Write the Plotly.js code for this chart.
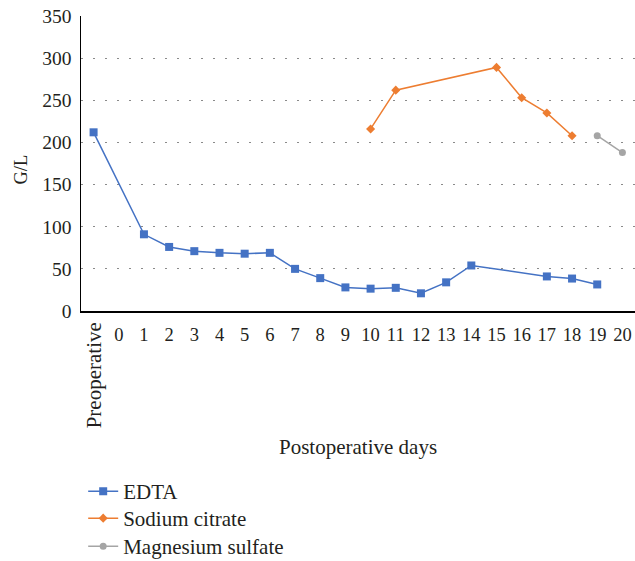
<!DOCTYPE html>
<html>
<head>
<meta charset="utf-8">
<script src="https://cdn.plot.ly/plotly-3.0.1.min.js"></script>
<style>html,body{margin:0;padding:0;background:#fff;}#chart{width:635px;height:561px;}</style>
</head>
<body>
<div id="chart"></div>
<script>
const categories = ["Preoperative","0","1","2","3","4","5","6","7","8","9","10","11","12","13","14","15","16","17","18","19","20"];
const edtaDays = ["Preoperative","1","2","3","4","5","6","7","8","9","10","11","12","13","14","17","18","19"];
const edtaValues = [212,91,76,71,69,68,69,50,39,28,26.5,27.5,21,34,54,41,38.5,31.5];
const citrateDays = ["10","11","15","16","17","18"];
const citrateValues = [216,262,289,253,235,208];
const magnesiumDays = ["19","20"];
const magnesiumValues = [208,188];
const yTicks = [0,50,100,150,200,250,300,350];
const tickLabels = categories.map(c => c === "Preoperative" ? "" : c);

const serif = "Liberation Serif, Times New Roman, serif";
const textColor = "#231f20";

const traces = [
  {x: edtaDays, y: edtaValues, name: "EDTA", type: "scatter", mode: "lines+markers", legend: "legend",
   line: {color: "#4472C4", width: 1.5}, marker: {symbol: "square", size: 8, color: "#4472C4"}},
  {x: citrateDays, y: citrateValues, name: "Sodium citrate", type: "scatter", mode: "lines+markers", legend: "legend2",
   line: {color: "#ED7D31", width: 1.5}, marker: {symbol: "diamond", size: 7, color: "#ED7D31"}},
  {x: magnesiumDays, y: magnesiumValues, name: "Magnesium sulfate", type: "scatter", mode: "lines+markers", legend: "legend3",
   line: {color: "#A5A5A5", width: 1.5}, marker: {symbol: "circle", size: 7, color: "#A5A5A5"}}
];

function legendAt(yTop) {
  return {orientation: "v", xref: "container", x: 0.131, xanchor: "left",
          yref: "container", y: yTop, yanchor: "top", bgcolor: "rgba(0,0,0,0)",
          font: {family: serif, size: 21, color: textColor}, tracegroupgap: 0};
}

const layout = {
  width: 635, height: 561,
  margin: {l: 81, r: 0, t: 16, b: 250, autoexpand: false},
  paper_bgcolor: "#fff", plot_bgcolor: "#fff",
  font: {family: serif, color: textColor, size: 18},
  showlegend: true,
  legend: legendAt(0.1604),
  legend2: legendAt(0.1123),
  legend3: legendAt(0.0624),
  xaxis: {type: "category", categoryorder: "array", categoryarray: categories,
          tickmode: "array", tickvals: categories, ticktext: tickLabels, tickangle: 0,
          range: [-0.5, categories.length - 0.5],
          showline: true, linecolor: "#000", linewidth: 1.5, showgrid: false, zeroline: false,
          ticks: "", ticklabelstandoff: 6, tickfont: {family: serif, size: 18.5, color: textColor}},
  yaxis: {range: [0, 350], tickvals: yTicks, showline: true, linecolor: "#000", linewidth: 1.5,
          showgrid: true, gridcolor: "#8a8a8a", gridwidth: 1.2, griddash: "1.5px,10.5px",
          zeroline: false, ticks: "", ticklabelstandoff: 4,
          tickfont: {family: serif, size: 19.5, color: textColor}},
  annotations: [
    {text: "Preoperative", x: "Preoperative", xref: "x", y: -0.033, yref: "paper",
     xanchor: "center", yanchor: "top", textangle: -90, showarrow: false,
     font: {family: serif, size: 21, color: textColor}},
    {text: "Postoperative days", x: 0.5, xref: "paper", y: -0.462, yref: "paper",
     xanchor: "center", yanchor: "middle", showarrow: false,
     font: {family: serif, size: 21, color: textColor}},
    {text: "G/L", x: -0.108, xref: "paper", y: 0.48, yref: "paper", textangle: -90,
     xanchor: "center", yanchor: "middle", showarrow: false,
     font: {family: serif, size: 18.5, color: textColor}}
  ]
};

Plotly.newPlot("chart", traces, layout, {displayModeBar: false, staticPlot: true});
</script>
</body>
</html>
